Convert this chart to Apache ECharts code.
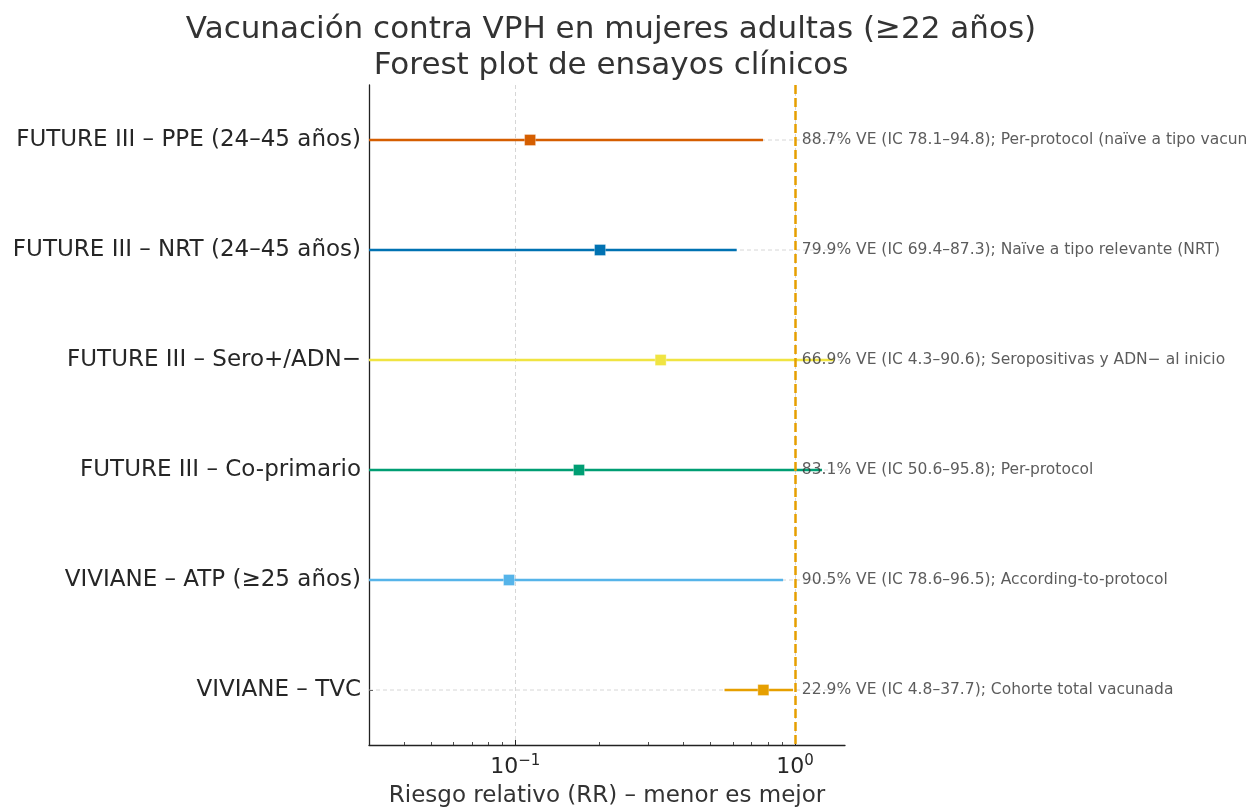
<!DOCTYPE html>
<html>
<head>
<meta charset="utf-8">
<script src="https://cdn.jsdelivr.net/npm/echarts@6/dist/echarts.min.js"></script>
<style>html,body{margin:0;padding:0;background:#fff;}#c{width:1259px;height:807px;}</style>
</head>
<body>
<div id="c"></div>
<script>
var categories = ['FUTURE III – PPE (24–45 años)', 'FUTURE III – NRT (24–45 años)', 'FUTURE III – Sero+/ADN−', 'FUTURE III – Co-primario', 'VIVIANE – ATP (≥25 años)', 'VIVIANE – TVC'];
var rr = [0.113, 0.201, 0.331, 0.169, 0.095, 0.771];
var ciLow = [0.03, 0.03, 0.03, 0.03, 0.03, 0.56];
var ciHigh = [0.769, 0.619, 1.38, 1.25, 0.907, 0.985];
var notes = [
  '88.7% VE (IC 78.1–94.8); Per-protocol (naïve a tipo vacunal)',
  '79.9% VE (IC 69.4–87.3); Naïve a tipo relevante (NRT)',
  '66.9% VE (IC 4.3–90.6); Seropositivas y ADN− al inicio',
  '83.1% VE (IC 50.6–95.8); Per-protocol',
  '90.5% VE (IC 78.6–96.5); According-to-protocol',
  '22.9% VE (IC 4.8–37.7); Cohorte total vacunada'
];
var colors = ['#D55E00', '#0072B2', '#F0E442', '#009E73', '#56B4E9', '#E69F00'];
var majorTicks = [0.1, 1];
var minorTicks = [0.04, 0.05, 0.06, 0.07, 0.08, 0.09, 0.2, 0.3, 0.4, 0.5, 0.6, 0.7, 0.8, 0.9];
var nullLine = 1;
var noteX = 1.05;

var chart = echarts.init(document.getElementById('c'), null, {renderer: 'canvas'});
var font = 'DejaVu Sans';

var ciData = categories.map(function (c, i) { return [ciLow[i], ciHigh[i], i]; });
var pointData = categories.map(function (c, i) { return { value: [rr[i], i], itemStyle: { color: colors[i] } }; });
var noteData = categories.map(function (c, i) { return [noteX, i]; });

var option = {
  animation: false,
  backgroundColor: '#ffffff',
  textStyle: { fontFamily: font },
  title: {
    text: 'Vacunación contra VPH en mujeres adultas (≥22 años)\nForest plot de ensayos clínicos',
    left: 606,
    top: 7,
    textAlign: 'center',
    textStyle: { fontFamily: font, fontSize: 31, fontWeight: 'normal', color: '#333333', lineHeight: 36 }
  },
  grid: { left: 369, right: 414, top: 85, bottom: 62, containLabel: false, outerBoundsMode: 'none' },
  xAxis: [{
    type: 'log',
    logBase: 10,
    min: 0.03,
    max: 1.51,
    position: 'bottom',
    axisLine: { show: true, lineStyle: { color: '#222', width: 1.3 } },
    axisTick: { show: true, inside: true, length: 5, customValues: majorTicks, lineStyle: { color: '#222', width: 1 } },
    axisLabel: {
      show: true,
      customValues: majorTicks,
      margin: 9,
      formatter: function (v) {
        var e = Math.round(Math.log(v) / Math.LN10);
        return '{b|10}{s|' + (e < 0 ? '−' + (-e) : e) + '}';
      },
      rich: {
        b: { fontFamily: font, fontSize: 22, color: '#262626' },
        s: { fontFamily: font, fontSize: 15, color: '#262626', padding: [0, 0, 12, 0] }
      }
    },
    splitLine: { show: true, lineStyle: { color: '#cccccc', width: 0.8, type: [4, 3] } },
    name: 'Riesgo relativo (RR) – menor es mejor',
    nameLocation: 'middle',
    nameGap: 40,
    nameTextStyle: { fontFamily: font, fontSize: 23, color: '#333333' }
  }, {
    type: 'log',
    logBase: 10,
    min: 0.03,
    max: 1.51,
    position: 'bottom',
    gridIndex: 0,
    axisLine: { show: false },
    axisTick: { show: true, inside: true, length: 3, customValues: minorTicks, lineStyle: { color: '#222', width: 0.8 } },
    axisLabel: { show: false },
    splitLine: { show: false }
  }],
  yAxis: {
    type: 'category',
    data: categories,
    inverse: true,
    boundaryGap: true,
    axisLine: { show: true, lineStyle: { color: '#222', width: 1.3 } },
    axisTick: { show: true, inside: true, length: 4, alignWithLabel: true, lineStyle: { color: '#222', width: 1 } },
    axisLabel: { fontFamily: font, fontSize: 23, color: '#262626', margin: 8 },
    splitLine: { show: false }
  },
  series: [{
    type: 'custom',
    xAxisIndex: 0,
    yAxisIndex: 0,
    z: 2,
    encode: { x: [0, 1], y: 2 },
    data: ciData,
    renderItem: function (params, api) {
      var idx = params.dataIndex;
      var cs = params.coordSys;
      var p1 = api.coord([api.value(0), idx]);
      var p2 = api.coord([api.value(1), idx]);
      var y = p1[1];
      return {
        type: 'group',
        children: [
          { type: 'line', shape: { x1: cs.x, y1: y, x2: cs.x + cs.width, y2: y }, style: { stroke: '#cccccc', lineWidth: 0.8, lineDash: [4, 3] }, z2: 0 },
          { type: 'line', shape: { x1: p1[0], y1: y, x2: p2[0], y2: y }, style: { stroke: colors[idx], lineWidth: 2.7 }, z2: 1 }
        ]
      };
    }
  }, {
    type: 'scatter',
    xAxisIndex: 0,
    yAxisIndex: 0,
    z: 4,
    symbol: 'rect',
    symbolSize: 11,
    itemStyle: { borderColor: 'rgba(255,255,255,0.5)', borderWidth: 0.6, opacity: 1 },
    data: pointData
  }, {
    type: 'scatter',
    xAxisIndex: 0,
    yAxisIndex: 0,
    z: 3,
    symbolSize: 0,
    data: noteData,
    label: {
      show: true,
      position: 'right',
      distance: 1,
      fontFamily: font,
      fontSize: 15.5,
      color: '#333333',
      width: 464,
      overflow: 'truncate',
      ellipsis: '',
      formatter: function (p) { return notes[p.dataIndex]; }
    },
    markLine: {
      silent: true,
      symbol: ['none', 'none'],
      label: { show: false },
      lineStyle: { color: '#E69F00', width: 2.5, type: [9, 4] },
      data: [{ xAxis: nullLine }]
    }
  }]
};
chart.setOption(option);
</script>
</body>
</html>
